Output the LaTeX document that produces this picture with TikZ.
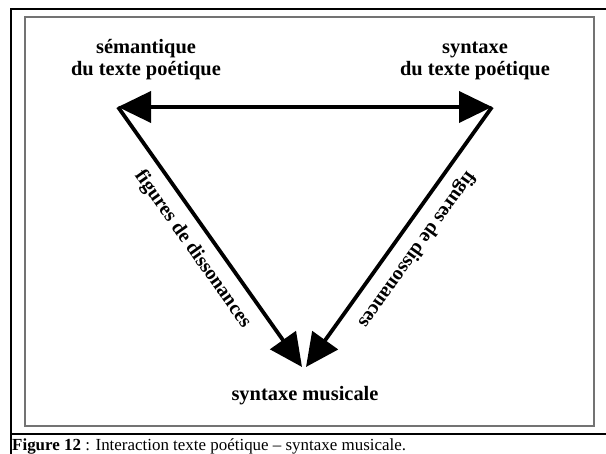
\documentclass[tikz,border=0pt]{standalone}
\usepackage{fontspec}
\setmainfont{Liberation Serif}
\usetikzlibrary{arrows.meta}

\begin{document}
\begin{tikzpicture}[x=1bp, y=1bp,
        pole/.style={font=\fontsize{20.5}{22.5}\selectfont\bfseries, align=center, inner sep=0pt},
        fleche/.style={line width=3.8bp, -{Triangle[length=33bp, width=31bp]}},
        figure/.style={font=\fontsize{20}{22}\selectfont\bfseries}]
        \useasboundingbox (0,0) rectangle (606,454);

        \draw[line width=2.4bp] (620,445) -- (11,445) -- (11,-10);
        \draw[line width=2.4bp] (11,20) -- (620,20);
        \draw[line width=1.5bp, black!55] (25,28) rectangle (594,437);

        \coordinate (sem) at (118,347);
        \coordinate (syn) at (492,347);
        \coordinate (musg) at (302,87);
        \coordinate (musd) at (306,87);

        \node[pole, anchor=south] (semantique) at (146,374) {sémantique\\du texte poétique};
        \node[pole, anchor=south] (syntaxe) at (475,374) {syntaxe\\du texte poétique};
        \node[pole, anchor=base] (musique) at (305,53) {syntaxe musicale};

        \draw[fleche, {Triangle[length=33bp, width=31bp]}-{Triangle[length=33bp, width=31bp]}] (sem) -- (syn);
        \draw[fleche] (sem) -- node[figure, sloped, below=7bp] (figg) {figures de dissonances} (musg);
        \draw[fleche] (syn) -- node[figure, sloped, allow upside down, above=7bp] (figd) {figures de dissonances} (musd);

        \node[anchor=base west, inner sep=0pt, font=\fontsize{17}{19}\selectfont] (legende) at (12,3.5) {\textbf{Figure 12} : Interaction texte poétique – syntaxe musicale.};
    \end{tikzpicture}
\end{document}
